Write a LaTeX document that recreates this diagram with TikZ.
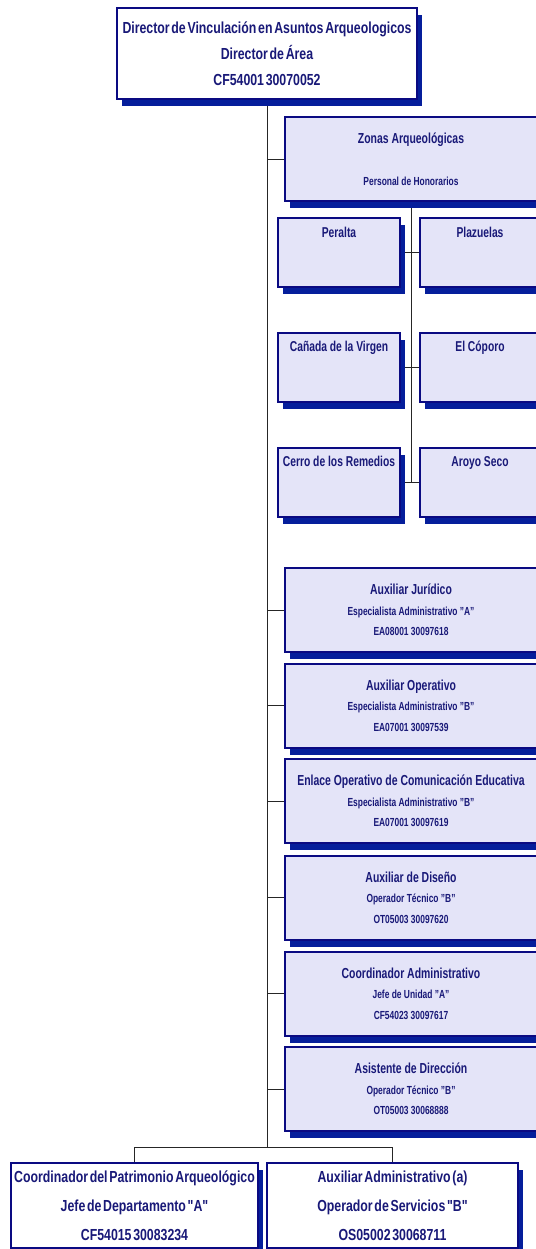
\documentclass[tikz,border=0pt]{standalone}
\usepackage{fontspec}
\setmainfont{Liberation Sans}[FakeStretch=0.72]
\newfontfamily\jefefont{Liberation Sans}[FakeStretch=0.77,WordSpace=0.5]
\usepackage{tikz}
\usetikzlibrary{shadows,backgrounds}
\definecolor{marino}{RGB}{10,10,130}
\definecolor{sombra}{RGB}{5,30,155}
\definecolor{lavanda}{RGB}{228,228,248}
\definecolor{tinta}{RGB}{25,25,120}
\newcommand{\tit}[1]{{\fontsize{14.5}{20.5}\selectfont #1}}

\begin{document}
\begin{tikzpicture}[x=1pt,y=-1pt,
    caja/.style={draw=marino,line width=2pt,rectangle,inner sep=3pt,align=center,text=tinta,
      drop shadow={shadow xshift=5pt,shadow yshift=-7pt,opacity=1,fill=sombra}},
    jefe/.style={caja,fill=white,minimum width=300pt,minimum height=91pt,
      font=\jefefont\bfseries\fontsize{16}{26}\selectfont},
    puesto/.style={caja,fill=lavanda,minimum width=252pt,minimum height=84pt,
      font=\bfseries\fontsize{11.7}{20.5}\selectfont},
    zona/.style={caja,fill=lavanda,minimum width=122pt,text height=16pt,text depth=47pt,
      font=\bfseries\fontsize{14.3}{17}\selectfont},
    linea/.style={draw=black!85,line width=0.9pt}]
            \useasboundingbox (0,0) rectangle (535,1249);
            \node[jefe] (dir) at (267,53.5) {Director de Vinculación en Asuntos Arqueologicos\\Director de Área\\CF54001 30070052};
            \node[puesto] (zonas) at (411,159) {\tit{Zonas Arqueológicas}\\[21.5pt]Personal de Honorarios};
            \node[zona] (peralta) at (339,252.5) {Peralta};
            \node[zona,minimum width=120pt] (plazuelas) at (480,252.5) {Plazuelas};
            \node[zona] (canada) at (339,367) {Cañada de la Virgen};
            \node[zona,minimum width=120pt] (coporo) at (480,367) {El Cóporo};
            \node[zona] (cerro) at (339,482) {Cerro de los Remedios};
            \node[zona,minimum width=120pt] (aroyo) at (480,482) {Aroyo Seco};
            \node[puesto] (juridico) at (411,610) {\tit{Auxiliar Jurídico}\\Especialista Administrativo "A"\\EA08001 30097618};
            \node[puesto] (operativo) at (411,705.5) {\tit{Auxiliar Operativo}\\Especialista Administrativo "B"\\EA07001 30097539};
            \node[puesto] (enlace) at (411,801) {\tit{Enlace Operativo de Comunicación Educativa}\\Especialista Administrativo "B"\\EA07001 30097619};
            \node[puesto] (diseno) at (411,897.5) {\tit{Auxiliar de Diseño}\\Operador Técnico "B"\\OT05003 30097620};
            \node[puesto] (coordadm) at (411,993.5) {\tit{Coordinador Administrativo}\\Jefe de Unidad "A"\\CF54023 30097617};
            \node[puesto] (asistente) at (411,1089) {\tit{Asistente de Dirección}\\Operador Técnico "B"\\OT05003 30068888};
            \node[jefe,minimum width=245pt,minimum height=85pt,font=\jefefont\bfseries\fontsize{16}{29}\selectfont] (patrimonio) at (134.5,1205.5) {Coordinador del Patrimonio Arqueológico\\Jefe de Departamento "A"\\CF54015 30083234};
            \node[jefe,minimum width=251pt,minimum height=85pt,font=\jefefont\bfseries\fontsize{16}{29}\selectfont] (auxadm) at (392.5,1205.5) {Auxiliar Administrativo (a)\\Operador de Servicios "B"\\OS05002 30068711};
            \coordinate (bus) at (267,1147);
            \begin{scope}[on background layer]
            \draw[linea] (dir.south) -- (bus);
            \draw[linea] (dir.south |- zonas.west) -- (zonas.west);
            \draw[linea] (dir.south |- juridico.west) -- (juridico.west);
            \draw[linea] (dir.south |- operativo.west) -- (operativo.west);
            \draw[linea] (dir.south |- enlace.west) -- (enlace.west);
            \draw[linea] (dir.south |- diseno.west) -- (diseno.west);
            \draw[linea] (dir.south |- coordadm.west) -- (coordadm.west);
            \draw[linea] (dir.south |- asistente.west) -- (asistente.west);
            \draw[linea] (zonas.south) -- (zonas.south |- cerro.east);
            \draw[linea] (peralta.east) -- (plazuelas.west);
            \draw[linea] (canada.east) -- (coporo.west);
            \draw[linea] (cerro.east) -- (aroyo.west);
            \draw[linea] (patrimonio.north) |- (bus) -| (auxadm.north);
            \end{scope}
        \end{tikzpicture}
\end{document}
